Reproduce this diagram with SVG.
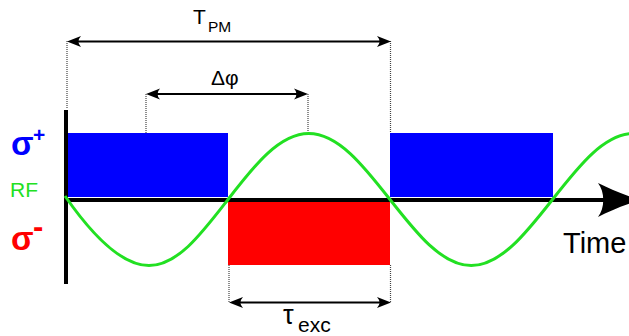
<svg xmlns="http://www.w3.org/2000/svg" width="629" height="336" viewBox="0 0 629 336">
  <style>
    .dim { stroke: #000; stroke-width: 2; fill: none; marker-start: url(#ah); marker-end: url(#ah); }
    .dot { stroke: #444; stroke-width: 1.2; stroke-dasharray: 1 1; fill: none; }
    .txt { font-family: "Liberation Sans", Arial, sans-serif; fill: #000; }
    .sig { font-family: "Liberation Sans", Arial, sans-serif; font-weight: bold; }
  </style>
  <defs>
    <marker id="ah" markerUnits="userSpaceOnUse" viewBox="-15 -6 16 12" refX="-4" refY="0" markerWidth="16" markerHeight="12" orient="auto-start-reverse">
      <path d="M0,0 L-14,-5.5 Q-9,0 -14,5.5 Z" fill="#000"/>
    </marker>
  </defs>
  <rect width="629" height="336" fill="#fff"/>

  <g id="pulses">
    <rect id="sigma-plus-1" x="68" y="133" width="160" height="64" fill="#0000ff"/>
    <rect id="sigma-plus-2" x="390" y="133" width="163" height="64" fill="#0000ff"/>
    <rect id="sigma-minus" x="228" y="202" width="162" height="63" fill="#ff0000"/>
  </g>

  <g id="axes">
    <line x1="66" y1="110" x2="66" y2="284" stroke="#000" stroke-width="4"/>
    <line x1="64" y1="200" x2="606" y2="200" stroke="#000" stroke-width="4"/>
    <path d="M642,200 C626,196 610,189 598,183 C605,192 605,208 598,217 C610,211 626,204 642,200 Z" fill="#000"/>
  </g>

  <g id="rf-wave">
    <path d="M65,196 C90,232 120,265.5 149,265.5 C178,265.5 202,233 228,199.5 C254,165.7 279.35,133.5 308.75,133.5 C338.15,133.5 363.5,165.7 390,199.5 C416.5,233.3 441.85,265.5 471.25,265.5 C500.65,265.5 526,233.3 552.5,199.5 C579,165.7 604.35,133.5 633.75,133.5" fill="none" stroke="#22e022" stroke-width="3"/>
  </g>

  <g id="connectors">
    <line class="dot" x1="67" y1="41" x2="67" y2="108"/>
    <line class="dot" x1="390.5" y1="41" x2="390.5" y2="133"/>
    <line class="dot" x1="146" y1="94" x2="146" y2="133"/>
    <line class="dot" x1="308" y1="94" x2="308" y2="131"/>
    <line class="dot" x1="229" y1="265" x2="229" y2="302"/>
    <line class="dot" x1="390.5" y1="265" x2="390.5" y2="302"/>
    <line class="dim" x1="71" y1="41.5" x2="387" y2="41.5"/>
    <line class="dim" x1="150" y1="94" x2="304" y2="94"/>
    <line class="dim" x1="233" y1="302.5" x2="387" y2="302.5"/>
  </g>

  <g id="label-tpm">
    <text class="txt" x="193" y="24" font-size="21">T</text>
    <text class="txt" x="208" y="32" font-size="15.5">PM</text>
  </g>
  <g id="label-dphi">
    <text class="txt" x="211" y="85" font-size="21">Δφ</text>
  </g>
  <g id="label-tau">
    <text class="txt" x="283" y="324" font-size="27">τ</text>
    <text class="txt" x="298" y="332" font-size="21">exc</text>
  </g>
  <g id="label-time">
    <text class="txt" x="563" y="253" font-size="29">Time</text>
  </g>
  <g id="label-sigma-plus">
    <text class="sig" x="11" y="155" font-size="33" fill="#0000ff">σ</text>
    <text class="sig" x="33" y="142" font-size="21" fill="#0000ff">+</text>
  </g>
  <g id="label-rf">
    <text class="txt" x="10" y="197" font-size="21" style="fill:#22e022">RF</text>
  </g>
  <g id="label-sigma-minus">
    <text class="sig" x="11" y="250" font-size="33" fill="#ff0000">σ</text>
    <text class="sig" x="33" y="237" font-size="31" fill="#ff0000">-</text>
  </g>
</svg>
